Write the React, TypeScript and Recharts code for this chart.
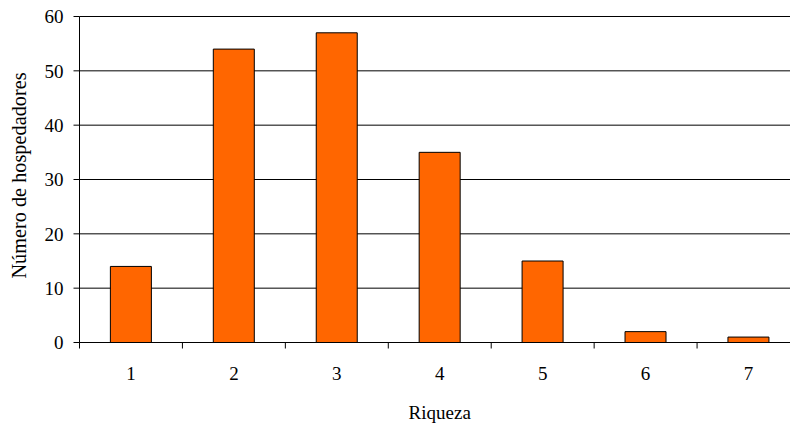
import { BarChart, Bar, XAxis, YAxis, CartesianGrid } from 'recharts';

const riqueza = ['1', '2', '3', '4', '5', '6', '7'];
const hospedadores = [14, 54, 57, 35, 15, 2, 1];
const yTicks = [0, 10, 20, 30, 40, 50, 60];

const chartData = riqueza.map((r, i) => ({ riqueza: r, count: hospedadores[i] }));

const font = 'Liberation Serif, Times New Roman, serif';

// x ticks sit between categories, labels in the middle
const XTick = (props: any) => {
  const { x, y, payload } = props;
  const edge = x - (payload.offset || 0);
  const axisY = y - 24;
  return (
    <g>
      <line x1={edge} x2={edge} y1={axisY} y2={axisY + 6} stroke="#000" />
      <text x={x} y={y} dy="0.71em" textAnchor="middle" fontFamily={font} fontSize={19} fill="#000">
        {payload.value}
      </text>
    </g>
  );
};

const YLabel = (props: any) => {
  const { viewBox } = props;
  const cx = viewBox.x + 26.3;
  const cy = viewBox.y + viewBox.height / 2 - 4;
  return (
    <text
      x={cx}
      y={cy}
      transform={`rotate(-90, ${cx}, ${cy})`}
      textAnchor="middle"
      fontFamily={font}
      fontSize={20.3}
      fill="#000"
    >
      Número de hospedadores
    </text>
  );
};

const App = () => {
  return (
    <div style={{ position: 'absolute', left: 0, top: 0, width: 790, height: 424, overflow: 'hidden', background: '#fff' }}>
      <BarChart
        width={802}
        height={424}
        data={chartData}
        margin={{ top: 16.5, right: 2, bottom: 0, left: 0 }}
        barCategoryGap="30%"
      >
        <CartesianGrid vertical={false} stroke="#000" />
        <XAxis
          dataKey="riqueza"
          height={81.5}
          axisLine={{ stroke: '#000' }}
          tickLine={false}
          tickSize={6}
          tickMargin={18}
          tick={<XTick />}
          interval={0}
          label={{ value: 'Riqueza', position: 'insideBottom', offset: 5, fontFamily: font, fontSize: 19, fill: '#000' }}
        />
        <YAxis
          width={79.5}
          domain={[0, 60]}
          ticks={yTicks}
          interval={0}
          axisLine={{ stroke: '#000' }}
          tickLine={{ stroke: '#000' }}
          tickSize={6}
          tickMargin={10}
          tick={{ fontFamily: font, fontSize: 19, fill: '#000' }}
          label={<YLabel />}
        />
        <Bar dataKey="count" fill="#FF6600" stroke="#000" strokeWidth={1} isAnimationActive={false} />
      </BarChart>
    </div>
  );
};

export default App;
